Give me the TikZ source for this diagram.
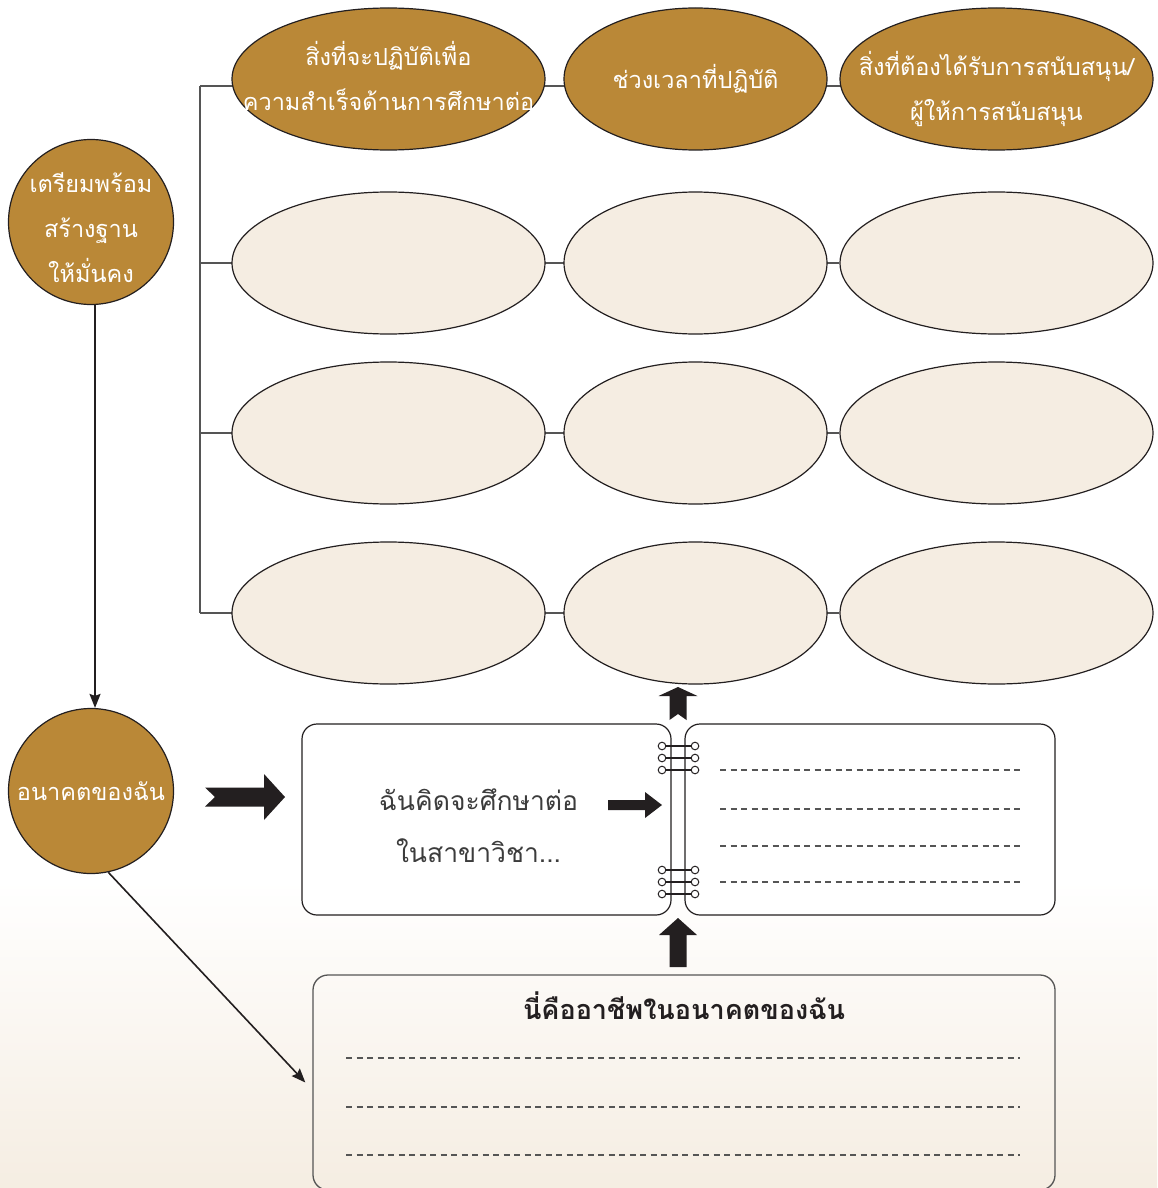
\documentclass[tikz,border=0pt]{standalone}
\usepackage{fontspec}
\newfontfamily\thaifont[Script=Thai]{Loma}
\usetikzlibrary{shapes.geometric,positioning,backgrounds,arrows.meta}

\definecolor{gold}{RGB}{186,136,55}
\definecolor{cream}{RGB}{245,237,226}
\definecolor{ink}{RGB}{35,31,32}
\definecolor{wiregray}{RGB}{85,85,85}
\definecolor{pagetext}{RGB}{60,60,60}

% block arrow along +x: length/shaft half/head half/head length/notch
\tikzset{
  pics/blockarrow/.style args={#1/#2/#3/#4/#5}{code={
    \fill[ink] (0,-#2) -- (#1-#4,-#2) -- (#1-#4,-#3) -- (#1,0)
      -- (#1-#4,#3) -- (#1-#4,#2) -- (0,#2) -- (#5,0) -- cycle;
  }}
}

\begin{document}
\begin{tikzpicture}[x=1pt,y=-1pt,
  every node/.style={font=\thaifont},
  whitetxt/.style={text=white,align=center,font=\thaifont\fontsize{23.5}{45}\selectfont},
  pagetxt/.style={text=pagetext,align=center,font=\thaifont\fontsize{26.5}{52}\selectfont},
  titletxt/.style={text=ink,font=\thaifont\bfseries\fontsize{27}{30}\selectfont},
  head/.style={ellipse,draw=ink,line width=1.2pt,fill=gold,minimum height=142pt,inner sep=0pt},
  cell/.style={ellipse,draw=ink,line width=1.2pt,fill=cream,minimum height=142pt,inner sep=0pt},
  wide/.style={minimum width=313pt},
  narrow/.style={minimum width=263pt},
  stage/.style={circle,draw=ink,line width=1.2pt,fill=gold,minimum size=165pt,inner sep=0pt},
  page/.style={rectangle,rounded corners=15pt,draw=ink,line width=1.2pt,fill=white,
    minimum height=191pt,minimum width=370pt},
  wire/.style={draw=wiregray,line width=1.3pt},
  arr/.style={draw=ink,line width=1.6pt,-{Stealth[length=14pt,width=11pt,inset=2pt]}},
  blank/.style={draw=wiregray,line width=1.2pt,dash pattern=on 6pt off 4.5pt},
  ring/.style={draw=ink,line width=2.2pt},
  hole/.style={draw=ink,fill=white,line width=1pt},
]
\useasboundingbox (0,0) rectangle (1157,1188);

% stages on the left
\node[stage,label={[whitetxt,yshift=-6pt]center:{เตรียมพร้อม\\สร้างฐาน\\ให้มั่นคง}}] (s1) at (91,222) {};
\node[stage,label={[whitetxt]center:{อนาคตของฉัน}}] (s2) at (91,791) {};

% header row
\node[head,wide,label={[whitetxt,yshift=3pt]center:{สิ่งที่จะปฏิบัติเพื่อ\\ความสำเร็จด้านการศึกษาต่อ}}] (a1) at (388.5,79) {};
\node[head,narrow,label={[whitetxt]center:{ช่วงเวลาที่ปฏิบัติ}}] (b1) at (695.5,79) {};
\node[head,wide,label={[whitetxt,yshift=-10pt]center:{สิ่งที่ต้องได้รับการสนับสนุน/\\ผู้ให้การสนับสนุน}}] (c1) at (996.5,79) {};

% empty cells
\foreach \r/\y in {2/263,3/433,4/613} {
  \node[cell,wide] (a\r) at (388.5,\y) {};
  \node[cell,narrow] (b\r) at (695.5,\y) {};
  \node[cell,wide] (c\r) at (996.5,\y) {};
}

% notebook
\node[page,minimum width=369pt,
  label={[pagetxt,xshift=-8pt,yshift=-6pt]center:{ฉันคิดจะศึกษาต่อ\\ในสาขาวิชา...}}] (lp) at (486.5,819.5) {};
\node[page] (rp) at (870,819.5) {};
\foreach \y in {746,758,770,870,882,894} {
  \draw[ring] (662,\y) -- (695,\y);
  \draw[hole] (662,\y) circle (3.8);
  \draw[hole] (695,\y) circle (3.8);
}
\foreach \y in {770,809,846,882}
  \draw[blank] (720,\y) -- (1020,\y);

% career box
\node[rectangle,rounded corners=15pt,draw=wiregray,line width=1.3pt,
  minimum width=742pt,minimum height=215pt,
  label={[titletxt,yshift=77pt]center:{นี่คืออาชีพในอนาคตของฉัน}}] (job) at (684,1082.5) {};
\foreach \y in {1058,1107,1155}
  \draw[blank] (346,\y) -- (1020,\y);

% arrows
\coordinate (jobin) at ([xshift=-7pt]job.west);
\draw[arr] ([xshift=4pt]s1.south) -- ([xshift=4pt]s2.north);
\draw[arr] (s2.-78) -- (jobin);
\pic at (205,797) {blockarrow={80/9.5/23/21/10}};
\pic at (608,805) {blockarrow={54/5/13/17/0}};
\pic[rotate=90] at (678,720) {blockarrow={33/8.5/19.5/9/6}};
\pic[rotate=90] at (678,967) {blockarrow={49/8.5/19/17/0}};

\begin{scope}[on background layer]
  \fill[white] (0,0) rectangle (1157,1188);
  \shade[top color=white,bottom color=cream] (0,880) rectangle (1157,1188);
  \coordinate (top) at (200,86);
  \draw[wire] (top) -- (top -| c1);
  \draw[wire] (top) -- (top |- a4);
  \foreach \r in {2,3,4}
    \draw[wire] (top |- a\r) -- (c\r);
\end{scope}
\end{tikzpicture}
\end{document}
